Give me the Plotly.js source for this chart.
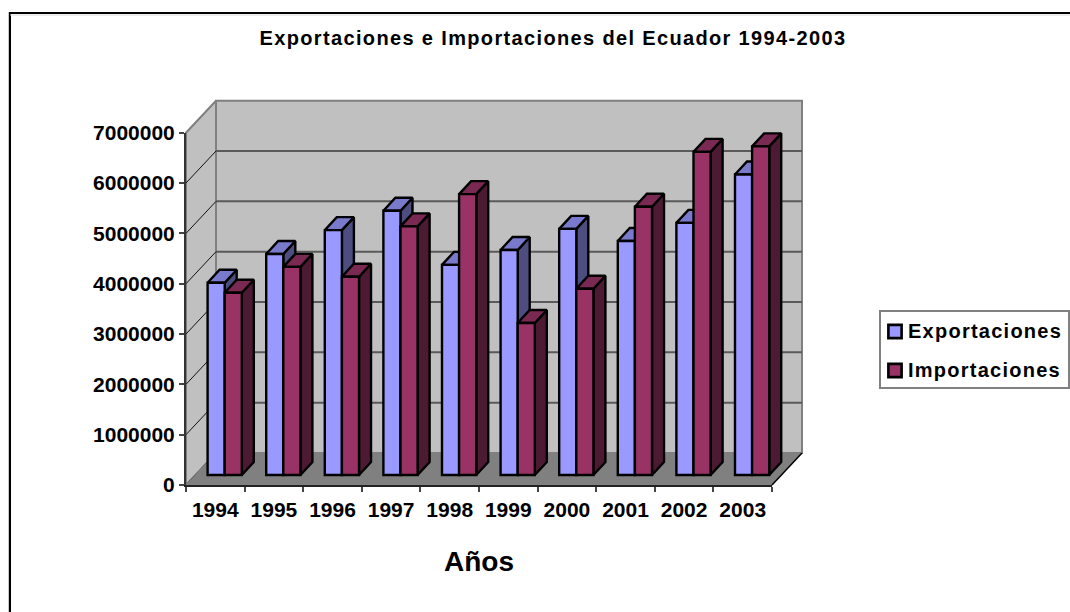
<!DOCTYPE html>
<html>
<head>
<meta charset="utf-8">
<script src="https://cdn.plot.ly/plotly-3.0.1.min.js"></script>
<style>
html,body{margin:0;padding:0;background:#fff}#chart{width:1070px;height:612px}
.gtitle{letter-spacing:1.35px}
.xtick text,.ytick text{letter-spacing:0.5px}
.legend .legendtext{letter-spacing:1.25px}
.legend .scrollbox{clip-path:none !important}
.legend .legendpoints{transform:translate(27px,1px) scale(1.1) translate(-20px,0)}
</style>
</head>
<body>
<div id="chart"></div>
<script>
// ---- data ----
const years = ['1994','1995','1996','1997','1998','1999','2000','2001','2002','2003'];
const exportaciones = [3820000,4390000,4865000,5250000,4175000,4470000,4890000,4650000,5010000,5970000];
const importaciones = [3620000,4135000,3940000,4940000,5580000,3020000,3700000,5330000,6420000,6530000];
const axisTicks = [0,1000000,2000000,3000000,4000000,5000000,6000000,7000000];
const gridLevels = [1000000,2000000,3000000,4000000,5000000,6000000];

// ---- geometry of the oblique projection ----
const W = 1070, H = 612;
const x0 = 186, x1 = 772, yBase = 485, yTop = 132.7;
const pxCat = (x1 - x0) / years.length;
const pxVal = (yBase - yTop) / 7000000;
const wallDX = 30 / pxCat, wallDY = 32 / pxVal;       // full depth of the chart box
const planeDX = 9.4 / pxCat, planeDY = 10 / pxVal;    // depth of the bar fronts
const barDX = 12 / pxCat, barDY = 13 / pxVal;         // depth of one bar
const bargap = 0.416, barW = (1 - bargap) / 2;
const sceneX = [-x0 / pxCat, (W - x0) / pxCat];
const sceneY = [(yBase - H) / pxVal, yBase / pxVal];

const FONT = 'Liberation Sans, Arial, sans-serif';
const noHover = {hoverinfo: 'skip', showlegend: false};
const barLine = 2.4;

function poly(points) {
  const xs = [], ys = [];
  points.forEach(p => {
    p.forEach(q => { xs.push(q[0]); ys.push(q[1]); });
    xs.push(p[0][0], null); ys.push(p[0][1], null);
  });
  return {x: xs, y: ys};
}
function face(points, fill, lineColor, lineWidth) {
  return Object.assign({type: 'scatter', mode: 'lines', fill: 'toself', fillcolor: fill,
    line: {color: lineColor, width: lineWidth}, cliponaxis: false}, poly(points), noHover);
}
function segs(list, color, width) {
  const xs = [], ys = [];
  list.forEach(s => { xs.push(s[0][0], s[1][0], null); ys.push(s[0][1], s[1][1], null); });
  return Object.assign({type: 'scatter', mode: 'lines', x: xs, y: ys,
    line: {color: color, width: width}, cliponaxis: false}, noHover);
}
const top7 = 7000000, n = years.length;

// walls and floor
const traces = [
  face([[[0,0],[wallDX,wallDY],[wallDX,top7+wallDY],[0,top7]]], '#C0C0C0', '#808080', 2),
  face([[[wallDX,wallDY],[n+wallDX,wallDY],[n+wallDX,top7+wallDY],[wallDX,top7+wallDY]]], '#C0C0C0', '#808080', 2),
  segs(gridLevels.map(v => [[wallDX, v+wallDY],[n+wallDX, v+wallDY]]), '#5A5A5A', 2),
  segs(gridLevels.map(v => [[0, v],[wallDX, v+wallDY]]), '#111111', 1),
  segs([[[0,0],[wallDX,wallDY]]], '#111111', 1),
  face([[[0,0],[wallDX,wallDY],[n+wallDX,wallDY],[n,0]]], '#808080', '#808080', 1),
  segs([[[n,0],[n+wallDX,wallDY]]], '#000000', 1.5)
];

// sides and tops of each bar
function sides(vals, shift) {
  return vals.map((v, i) => {
    const xr = i + 0.5 + planeDX + shift + barW;
    return [[xr, planeDY],[xr, v+planeDY],[xr+barDX, v+planeDY+barDY],[xr+barDX, planeDY+barDY]];
  });
}
function tops(vals, shift) {
  return vals.map((v, i) => {
    const xl = i + 0.5 + planeDX + shift, xr = xl + barW;
    const y = v + planeDY;
    return [[xl, y],[xr, y],[xr+barDX, y+barDY],[xl+barDX, y+barDY]];
  });
}
traces.push(face(sides(exportaciones, -barW), '#4D4D80', '#000000', barLine));
traces.push(face(tops(exportaciones, -barW), '#7A7ACC', '#000000', barLine));
traces.push(face(sides(importaciones, 0), '#4D1A33', '#000000', barLine));
traces.push(face(tops(importaciones, 0), '#7A2952', '#000000', barLine));

// front faces: real bars on axes aligned with the projection
const barOpts = {type: 'bar', xaxis: 'x2', yaxis: 'y2', hoverinfo: 'x+y+name'};
traces.push(Object.assign({}, barOpts, {name: 'Exportaciones', legendgroup: 'e', x: years, y: exportaciones,
  marker: {color: '#9999FF', line: {color: '#000000', width: barLine}}}));
traces.push(Object.assign({}, barOpts, {name: 'Importaciones', legendgroup: 'i', x: years, y: importaciones,
  marker: {color: '#993366', line: {color: '#000000', width: barLine}}}));

// carrier of the visible axes
traces.push({type: 'scatter', mode: 'lines', x: years, y: years.map(() => 0), xaxis: 'x3', yaxis: 'y3',
  line: {width: 0, color: 'rgba(0,0,0,0)'}, hoverinfo: 'skip', showlegend: false});

const hidden = {visible: false, fixedrange: true};
const layout = {
  width: W, height: H,
  margin: {l: 0, r: 0, t: 0, b: 0},
  paper_bgcolor: '#FFFFFF', plot_bgcolor: 'rgba(0,0,0,0)',
  font: {family: FONT, color: '#000000'},
  barmode: 'group', bargap: bargap, bargroupgap: 0,
  title: {text: '<b>Exportaciones e Importaciones del Ecuador 1994-2003</b>',
    x: 553/W, xanchor: 'center', y: 1 - 38/H, yanchor: 'middle',
    font: {family: FONT, size: 20, color: '#000000'}},
  xaxis: Object.assign({domain: [0,1], range: sceneX, anchor: 'y'}, hidden),
  yaxis: Object.assign({domain: [0,1], range: sceneY, anchor: 'x'}, hidden),
  xaxis2: Object.assign({domain: [0,1], anchor: 'y2', type: 'category', categoryorder: 'array', categoryarray: years,
    range: [sceneX[0]-0.5-planeDX, sceneX[1]-0.5-planeDX]}, hidden),
  yaxis2: Object.assign({domain: [0,1], anchor: 'x2', range: [sceneY[0]-planeDY, sceneY[1]-planeDY]}, hidden),
  xaxis3: {domain: [x0/W, x1/W], anchor: 'y3', type: 'category', categoryorder: 'array', categoryarray: years,
    range: [-0.5, n-0.5], tickson: 'boundaries', ticks: 'outside', ticklen: 5, tickwidth: 2, tickcolor: '#444444',
    showline: true, linecolor: '#222222', linewidth: 2, showgrid: false, zeroline: false, fixedrange: true,
    ticklabelstandoff: 5,
    tickfont: {family: FONT, size: 21, color: '#000000', weight: 'bold'},
    title: {text: '<b>Años</b>', font: {family: FONT, size: 28, color: '#000000'}, standoff: 31}},
  yaxis3: {domain: [1-yBase/H, 1-yTop/H], anchor: 'x3', range: [0, 7000000],
    tickmode: 'array', tickvals: axisTicks, ticktext: axisTicks.map(String),
    ticks: 'outside', ticklen: 5, tickwidth: 2, tickcolor: '#444444',
    showline: true, linecolor: '#333333', linewidth: 2, showgrid: false, zeroline: false, fixedrange: true,
    tickfont: {family: FONT, size: 21, color: '#000000', weight: 'bold'}},
  showlegend: true,
  legend: {x: 868/W, xanchor: 'left', y: 1 - 350/H, yanchor: 'middle',
    bgcolor: 'rgba(0,0,0,0)', borderwidth: 0, traceorder: 'grouped', tracegroupgap: 10,
    font: {family: FONT, size: 20, color: '#000000', weight: 'bold'}},
  shapes: [
    {type: 'rect', xref: 'paper', yref: 'paper', layer: 'below', x0: 880/W, x1: 1069/W, y0: 1-388/H, y1: 1-311/H,
      line: {color: '#808080', width: 2}, fillcolor: '#FFFFFF'},
    {type: 'line', xref: 'paper', yref: 'paper', x0: 10/W, x1: 1, y0: 1-13/H, y1: 1-13/H, line: {color: '#000000', width: 2}},
    {type: 'line', xref: 'paper', yref: 'paper', x0: 10/W, x1: 10/W, y0: 0, y1: 1-12/H, line: {color: '#000000', width: 2}},
    {type: 'line', xref: 'paper', yref: 'paper', x0: 10/W, x1: 1, y0: 1-15/H, y1: 1-15/H, line: {color: '#D8D8D8', width: 1}},
    {type: 'line', xref: 'paper', yref: 'paper', x0: 8.5/W, x1: 8.5/W, y0: 0, y1: 1-12/H, line: {color: '#C8C8C8', width: 1}}
  ]
};
Plotly.newPlot('chart', traces, layout, {displayModeBar: false, responsive: false});
</script>
</body>
</html>
